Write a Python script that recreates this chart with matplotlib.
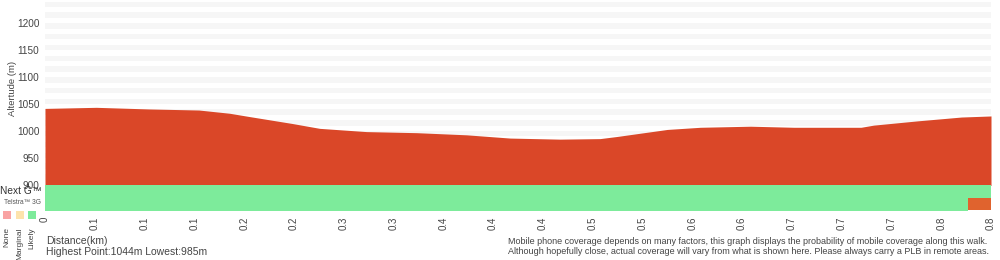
import matplotlib
matplotlib.use("Agg")
import matplotlib.pyplot as plt
import numpy as np

plt.rcParams['font.family'] = ['Liberation Sans', 'DejaVu Sans']

# elevation profile (km, m)
distance = [0.0, 0.045, 0.091, 0.135, 0.162, 0.179, 0.217, 0.241, 0.282, 0.326,
            0.370, 0.408, 0.452, 0.487, 0.502, 0.546, 0.575, 0.619, 0.657, 0.716,
            0.727, 0.766, 0.804, 0.83]
altitude = [1042, 1044, 1041, 1039, 1033, 1027, 1014, 1005, 999, 997,
            993, 987, 985, 986, 990, 1003, 1007, 1009, 1007, 1007,
            1011, 1019, 1026, 1028]

tick_labels = ['0', '0.1', '0.1', '0.1', '0.2', '0.2', '0.3', '0.3', '0.4', '0.4',
               '0.4', '0.5', '0.5', '0.6', '0.6', '0.7', '0.7', '0.7', '0.8', '0.8']
y_ticks = [900, 950, 1000, 1050, 1100, 1150, 1200]

# coverage segments: (start km, end km)
nextg_likely = [(0.0, 0.83)]
telstra_likely = [(0.0, 0.81)]
telstra_other = [(0.81, 0.83)]

legend_names = ['None', 'Marginal', 'Likely']
legend_colors = ['#F9A3A3', '#FDE3AC', '#7DEB9B']

red = '#DA4728'
green = '#7DEB9B'
orange = '#E0632E'
grey_txt = '#444444'
total = distance[-1]

fig = plt.figure(figsize=(10, 2.6), dpi=100)
ax = fig.add_axes([0.045, 1 - 185 / 260, 0.946, 185 / 260])
cov = fig.add_axes([0.045, 1 - 211 / 260, 0.946, 26 / 260])

# background stripes
for lo in range(910, 1240, 20):
    ax.axhspan(lo, lo + 10, color='#F6F6F6', lw=0, zorder=0)

ax.fill_between(distance, altitude, 850, color=red, lw=0, zorder=2)
ax.set_xlim(0, total)
ax.set_ylim(900, 1243)
ax.set_yticks(y_ticks)
ax.set_yticklabels([str(v) for v in y_ticks], fontsize=7.2, color=grey_txt)
ax.tick_params(axis='y', length=0, pad=4)
ax.set_xticks([])
for s in ax.spines.values():
    s.set_visible(False)
fig.text(0.0125, 1 - 88 / 260, 'Altertude (m)', rotation=90, fontsize=6.8,
         color=grey_txt, ha='center', va='center')

# coverage bars
cov.broken_barh([(a, b - a) for a, b in nextg_likely], (1, 1), color=green, lw=0)
cov.broken_barh([(a, b - a) for a, b in telstra_likely], (0, 1), color=green, lw=0)
cov.broken_barh([(a, b - a) for a, b in telstra_other], (0.1, 0.9), color=orange, lw=0)
cov.set_xlim(0, total)
cov.set_ylim(0, 2)
cov.set_yticks([])
cov.set_xticks(np.linspace(0, total, len(tick_labels)))
cov.set_xticklabels(tick_labels, rotation=90, fontsize=7, color=grey_txt)
cov.tick_params(axis='x', length=0, pad=4)
for s in cov.spines.values():
    s.set_visible(False)

# left legend
fig.text(0.0, 1 - 191 / 260, 'Next G\u2122', fontsize=7.3, color='#333333', va='center', ha='left')
fig.text(0.004, 1 - 203 / 260, 'Telstra\u2122 3G', fontsize=4.8, color='#555555', va='center', ha='left')
for i, (name, col) in enumerate(zip(legend_names, legend_colors)):
    x0 = 3 + i * 12.5
    fig.patches.append(plt.Rectangle((x0 / 1000, 1 - 219 / 260), 8 / 1000, 8 / 260,
                                     transform=fig.transFigure, color=col, lw=0))
    fig.text((x0 + 4) / 1000, 1 - 227 / 260, name, rotation=90, fontsize=6.0,
             color=grey_txt, ha='center', va='top')

# footer text
fig.text(0.046, 1 - 241 / 260, 'Distance(km)', fontsize=7.5, color=grey_txt, va='center')
fig.text(0.046, 1 - 252 / 260, 'Highest Point:1044m Lowest:985m', fontsize=7.5,
         color=grey_txt, va='center')
fig.text(0.508, 1 - 241 / 260,
         'Mobile phone coverage depends on many factors, this graph displays the probability of mobile coverage along this walk.',
         fontsize=6.45, color=grey_txt, va='center')
fig.text(0.508, 1 - 252 / 260,
         'Although hopefully close, actual coverage will vary from what is shown here. Please always carry a PLB in remote areas.',
         fontsize=6.45, color=grey_txt, va='center')

fig.savefig('out.png', dpi=100)
